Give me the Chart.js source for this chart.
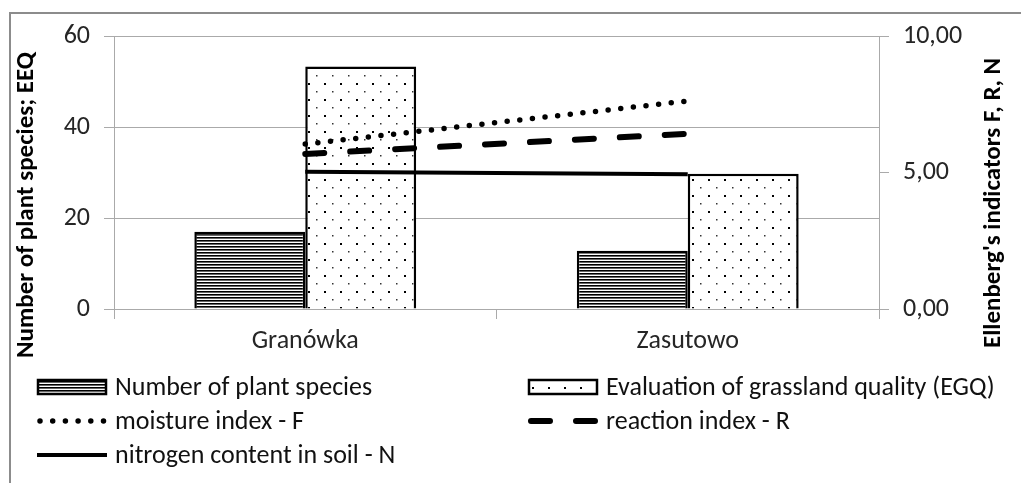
<!DOCTYPE html>
<html>
<head>
<meta charset="utf-8">
<script src="https://cdn.jsdelivr.net/npm/chart.js@4.4.1/dist/chart.umd.min.js"></script>
<style>
  body { margin: 0; background: #fff; }
  #wrap { width: 1021px; height: 483px; }
</style>
</head>
<body>
<div id="wrap"><canvas id="ellChart" width="1021" height="483"></canvas></div>
<script>
// data
const categories = ['Granówka', 'Zasutowo'];
const speciesCount = [17, 12.8];
const egqValues = [53.3, 29.7];
const moistureF = [6.04, 7.62];
const reactionR = [5.68, 6.42];
const nitrogenN = [5.03, 4.94];
const leftTicks = [0, 20, 40, 60];
const rightTicks = [0, 5, 10];

const FONT = 'Carlito, Lato, sans-serif';
const GRID = '#aaaaaa';

// patterns for the bars
function stripePattern() {
  const c = document.createElement('canvas');
  c.width = 4; c.height = 3;
  const g = c.getContext('2d');
  g.fillStyle = '#fff'; g.fillRect(0, 0, 4, 3);
  g.fillStyle = '#000'; g.fillRect(0, 0, 4, 1);
  g.fillStyle = '#666'; g.fillRect(0, 1, 4, 1);
  return g.createPattern(c, 'repeat');
}
function dotPattern() {
  const c = document.createElement('canvas');
  c.width = 16; c.height = 16;
  const g = c.getContext('2d');
  g.fillStyle = '#fff'; g.fillRect(0, 0, 16, 16);
  g.fillStyle = '#000';
  g.fillRect(4, 3, 2, 2);
  g.fillStyle = '#333';
  g.fillRect(12, 11, 1.5, 1.5);
  return g.createPattern(c, 'repeat');
}
const stripes = stripePattern();
const dots = dotPattern();

// frame, axis titles and the two-column legend
const decor = {
  id: 'decor',
  beforeDraw(chart) {
    const ctx = chart.ctx;
    ctx.save();
    ctx.fillStyle = '#fff';
    ctx.fillRect(0, 0, chart.width, chart.height);
    ctx.strokeStyle = '#8c8c8c';
    ctx.lineWidth = 2;
    ctx.strokeRect(10, 13, 1200, 600);
    ctx.restore();
  },
  afterDraw(chart) {
    const ctx = chart.ctx;
    ctx.save();
    ctx.fillStyle = '#000';
    ctx.font = 'bold 25px ' + FONT;
    ctx.textAlign = 'center';
    ctx.textBaseline = 'middle';
    ctx.translate(27, 205);
    ctx.rotate(-Math.PI / 2);
    ctx.fillText('Number of plant species; EEQ', 0, 0);
    ctx.restore();

    ctx.save();
    ctx.fillStyle = '#000';
    ctx.font = 'bold 25px ' + FONT;
    ctx.textAlign = 'center';
    ctx.textBaseline = 'middle';
    ctx.translate(994, 203);
    ctx.rotate(-Math.PI / 2);
    ctx.fillText("Ellenberg's indicators F, R, N", 0, 0);
    ctx.restore();

    // legend
    const ds = chart.data.datasets;
    const slots = [[37, 387], [528, 387], [37, 421], [528, 421], [37, 455]];
    const w = 70;
    ds.forEach((d, i) => {
      const [x, y] = slots[i];
      ctx.save();
      if (d.type === 'bar') {
        ctx.fillStyle = d.backgroundColor;
        ctx.fillRect(x, y - 8, w, 16);
        ctx.strokeStyle = '#000';
        ctx.lineWidth = 2.5;
        ctx.strokeRect(x + 1, y - 7, w - 2, 14);
      } else {
        ctx.strokeStyle = '#000';
        ctx.lineWidth = d.borderWidth;
        ctx.lineCap = d.borderCapStyle || 'butt';
        ctx.setLineDash(d.borderDash || []);
        ctx.beginPath();
        if (d.borderDash && d.borderDash[0] === 0) {
          ctx.moveTo(x + 3, y); ctx.lineTo(x + w, y);
        } else if (d.borderDash) {
          ctx.moveTo(x + 3, y); ctx.lineTo(x + w - 3, y);
        } else {
          ctx.moveTo(x, y); ctx.lineTo(x + w, y);
        }
        ctx.stroke();
      }
      ctx.restore();
      ctx.save();
      ctx.fillStyle = '#111';
      ctx.font = '26px ' + FONT;
      ctx.textBaseline = 'middle';
      ctx.fillText(d.label, x + 78, y + 1);
      ctx.restore();
    });
  }
};

new Chart(document.getElementById('ellChart'), {
  data: {
    labels: categories,
    datasets: [
      {
        type: 'bar',
        label: 'Number of plant species',
        data: speciesCount,
        backgroundColor: stripes,
        borderColor: '#000',
        borderWidth: 2.5,
        yAxisID: 'y',
        order: 2,
        categoryPercentage: 0.58,
        barPercentage: 1
      },
      {
        type: 'bar',
        label: 'Evaluation of grassland quality (EGQ)',
        data: egqValues,
        backgroundColor: dots,
        borderColor: '#000',
        borderWidth: 2.5,
        yAxisID: 'y',
        order: 2,
        categoryPercentage: 0.58,
        barPercentage: 1
      },
      {
        type: 'line',
        label: 'moisture index - F',
        data: moistureF,
        borderColor: '#000',
        borderWidth: 5.5,
        borderCapStyle: 'round',
        borderDash: [0, 12.7],
        pointRadius: 0,
        yAxisID: 'y2',
        order: 1
      },
      {
        type: 'line',
        label: 'reaction index - R',
        data: reactionR,
        borderColor: '#000',
        borderWidth: 6,
        borderCapStyle: 'round',
        borderDash: [19, 26],
        pointRadius: 0,
        yAxisID: 'y2',
        order: 1
      },
      {
        type: 'line',
        label: 'nitrogen content in soil - N',
        data: nitrogenN,
        borderColor: '#000',
        borderWidth: 4,
        pointRadius: 0,
        yAxisID: 'y2',
        order: 1
      }
    ]
  },
  options: {
    responsive: false,
    animation: false,
    devicePixelRatio: 1,
    layout: { padding: { left: 0, right: 0, top: 36, bottom: 0 } },
    plugins: {
      legend: { display: false },
      tooltip: { enabled: false }
    },
    scales: {
      x: {
        offset: true,
        grid: { offset: true, drawOnChartArea: false, color: GRID, tickLength: 10 },
        border: { color: GRID },
        ticks: { color: '#262626', font: { family: FONT, size: 26 }, padding: 7, maxRotation: 0 },
        afterFit(s) { s.height = 174; }
      },
      y: {
        position: 'left',
        min: 0, max: 60,
        afterBuildTicks(s) { s.ticks = leftTicks.map(v => ({ value: v })); },
        grid: { color: GRID, tickLength: 10 },
        border: { color: GRID },
        ticks: { color: '#262626', font: { family: FONT, size: 26 }, padding: 14 },
        afterFit(s) { s.width = 114; }
      },
      y2: {
        position: 'right',
        min: 0, max: 10,
        afterBuildTicks(s) { s.ticks = rightTicks.map(v => ({ value: v })); },
        grid: { drawOnChartArea: false, color: GRID, tickLength: 10 },
        border: { color: GRID },
        ticks: {
          color: '#262626', font: { family: FONT, size: 26 }, padding: 14,
          callback: v => v.toFixed(2).replace('.', ',')
        },
        afterFit(s) { s.width = 142; }
      }
    }
  },
  plugins: [decor]
});
</script>
</body>
</html>
